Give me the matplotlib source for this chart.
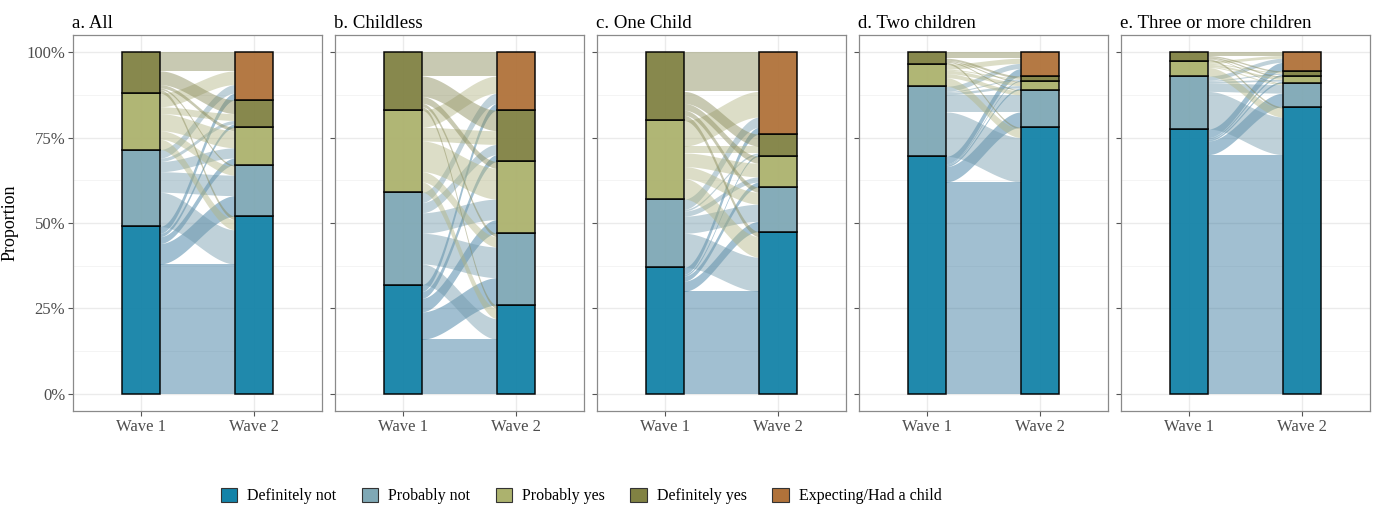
import numpy as np
import matplotlib.pyplot as plt
from matplotlib.patches import Patch

plt.rcParams['font.family'] = ['Liberation Serif', 'DejaVu Serif']

# response categories, bottom to top
wave1_cats = ['Definitely not', 'Probably not', 'Probably yes', 'Definitely yes']
wave2_cats = ['Definitely not', 'Probably not', 'Probably yes', 'Definitely yes',
              'Expecting/Had a child']
colors = ['#1483a8', '#7fa8b5', '#acb26e', '#818243', '#b0723a']
flow_colors = ['#2f7399', '#7199ab', '#b2b583', '#878856']

titles = ['a. All', 'b. Childless', 'c. One Child', 'd. Two children',
          'e. Three or more children']

# transition shares (%): rows = wave 1 answer, cols = wave 2 answer
flows_all = [[38.0, 6.0, 2.0, 1.0, 2.0],
             [10.0, 6.0, 3.0, 1.0, 2.5],
             [3.0, 2.5, 5.0, 2.0, 4.0],
             [1.0, 0.5, 1.0, 4.0, 5.5]]
flows_childless = [[16.0, 8.0, 4.0, 2.0, 2.0],
                   [6.0, 9.0, 6.0, 3.0, 3.0],
                   [3.0, 3.0, 9.0, 4.0, 5.0],
                   [1.0, 1.0, 2.0, 6.0, 7.0]]
flows_one = [[30.0, 3.0, 1.5, 0.5, 2.0],
             [10.0, 5.0, 1.5, 0.5, 3.0],
             [6.0, 3.5, 4.0, 2.0, 7.5],
             [1.5, 1.5, 2.0, 3.5, 11.5]]
flows_two = [[62.0, 4.5, 0.5, 0.3, 2.2],
             [13.0, 5.0, 0.7, 0.3, 1.5],
             [2.5, 1.2, 1.0, 0.3, 1.5],
             [0.5, 0.3, 0.3, 0.6, 1.8]]
flows_three = [[70.0, 4.0, 0.5, 0.5, 2.5],
               [11.0, 2.5, 0.5, 0.3, 1.2],
               [2.5, 0.3, 0.6, 0.3, 0.8],
               [0.5, 0.2, 0.4, 0.4, 1.0]]
panels = [flows_all, flows_childless, flows_one, flows_two, flows_three]

W = 1 / 3  # stratum width

fig = plt.figure(figsize=(13.73, 5.07), dpi=100)

for k, (title, fl) in enumerate(zip(titles, panels)):
    m = np.array(fl) / 100.0
    ax = fig.add_axes([73 / 1373 + k * 262 / 1373, 1 - 411 / 507,
                       249 / 1373, 376 / 507])
    ax.set_xlim(0.4, 2.6)
    ax.set_ylim(-0.05, 1.05)

    row = m.sum(axis=1)
    col = m.sum(axis=0)
    start1 = np.concatenate([[0], np.cumsum(row)[:-1]])
    start2 = np.concatenate([[0], np.cumsum(col)[:-1]])

    # lode positions
    off1 = start1.copy()
    pos1 = np.zeros_like(m)
    for i in range(m.shape[0]):
        for j in range(m.shape[1]):
            pos1[i, j] = off1[i]
            off1[i] += m[i, j]
    off2 = start2.copy()
    pos2 = np.zeros_like(m)
    for j in range(m.shape[1]):
        for i in range(m.shape[0]):
            pos2[i, j] = off2[j]
            off2[j] += m[i, j]

    x0, x1 = 1 + W / 2, 2 - W / 2
    t = np.linspace(0, 1, 100)
    s = 3 * t ** 2 - 2 * t ** 3
    xs = x0 + (x1 - x0) * t
    for i in range(m.shape[0]):
        for j in range(m.shape[1]):
            v = m[i, j]
            if v <= 0:
                continue
            lo = pos1[i, j] + (pos2[i, j] - pos1[i, j]) * s
            ax.fill_between(xs, lo, lo + v, color=flow_colors[i], alpha=0.45,
                            lw=0, zorder=2)

    for i in range(len(row)):
        ax.bar(1, row[i], bottom=start1[i], width=W, color=colors[i],
               alpha=0.95, edgecolor='black', lw=1.1, zorder=3)
    for j in range(len(col)):
        ax.bar(2, col[j], bottom=start2[j], width=W, color=colors[j],
               alpha=0.95, edgecolor='black', lw=1.1, zorder=3)

    ax.set_yticks([0, 0.25, 0.5, 0.75, 1.0])
    ax.set_yticks([0.125, 0.375, 0.625, 0.875], minor=True)
    ax.set_xticks([1, 2])
    ax.set_xticklabels(['Wave 1', 'Wave 2'])
    if k == 0:
        ax.set_yticklabels(['0%', '25%', '50%', '75%', '100%'])
        ax.set_ylabel('Proportion', fontsize=13, color='black')
        ax.yaxis.set_label_coords(-0.22, 0.5)
    else:
        ax.set_yticklabels([])
    ax.grid(True, which='major', color='#ebebeb', lw=1.0, zorder=0)
    ax.grid(True, which='minor', axis='y', color='#f2f2f2', lw=0.6, zorder=0)
    ax.set_axisbelow(True)
    ax.tick_params(which='major', length=3.5, width=0.8, color='#555555',
                   labelsize=12, labelcolor='#4d4d4d', pad=2)
    ax.tick_params(which='minor', length=0)
    for sp in ax.spines.values():
        sp.set_color('#8a8a8a')
        sp.set_linewidth(0.9)
    ax.set_title(title, loc='left', fontsize=13.5, pad=5, x=-0.005)

handles = [Patch(facecolor=c, edgecolor='#333333', lw=0.8) for c in colors]
fig.legend(handles, wave2_cats, loc='center', bbox_to_anchor=(581 / 1373, 1 - 496 / 507),
           ncol=5, frameon=False, fontsize=11.5, handlelength=1.05,
           handleheight=1.05, columnspacing=1.6, handletextpad=0.6)

fig.savefig('out.png', dpi=100)
